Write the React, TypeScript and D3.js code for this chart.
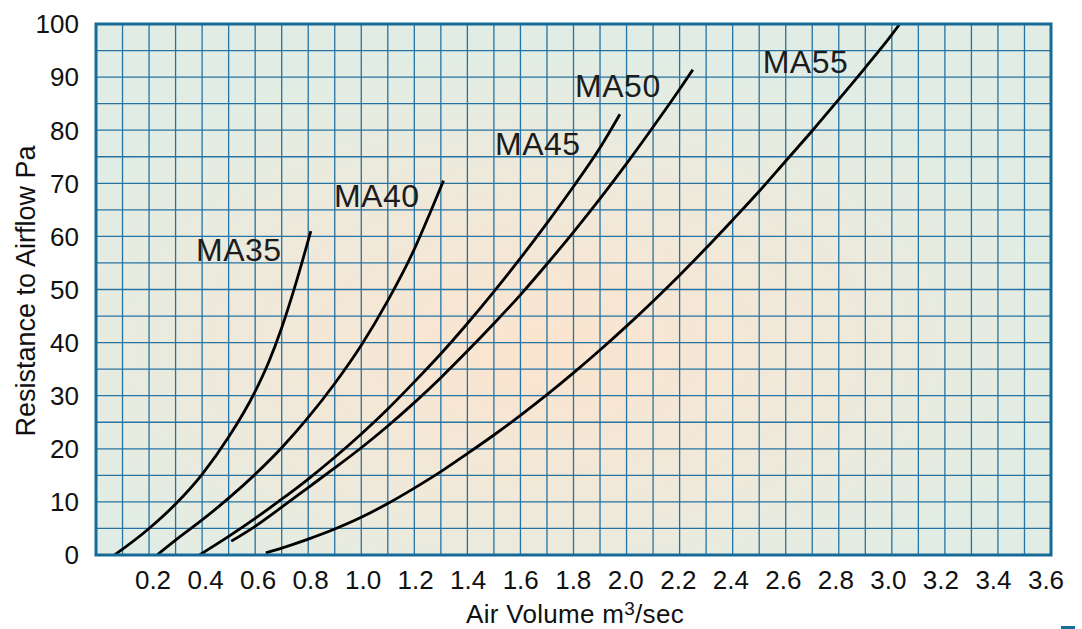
import React from "react";
import * as d3 from "d3";

const W = 1082;
const H = 629;

// Data (Air volume m3/sec, Resistance Pa)
const ma35: [number, number][] = [
  [0.07, 0], [0.2, 5.0], [0.3, 9.6], [0.4, 15.2], [0.5, 22.2], [0.6, 30.8],
  [0.65, 36.2], [0.7, 42.8], [0.75, 50.6], [0.81, 61],
];
const ma40: [number, number][] = [
  [0.23, 0], [0.3, 2.8], [0.4, 6.6], [0.5, 10.7], [0.6, 15.2], [0.7, 20.2],
  [0.8, 25.9], [0.9, 32.3], [1.0, 39.5], [1.1, 47.9], [1.2, 57.6], [1.26, 64.5], [1.31, 70.5],
];
const ma45: [number, number][] = [
  [0.39, 0], [0.5, 3.5], [0.6, 6.9], [0.7, 10.5], [0.8, 14.3], [0.9, 18.4],
  [1.0, 22.8], [1.1, 27.5], [1.2, 32.6], [1.3, 37.9], [1.4, 43.6], [1.5, 49.6],
  [1.6, 55.9], [1.7, 62.5], [1.8, 69.4], [1.9, 76.7], [1.975, 83],
];
const ma50: [number, number][] = [
  [0.51, 2.6], [0.6, 5.4], [0.7, 9.0], [0.8, 12.7], [0.9, 16.4], [1.0, 20.2],
  [1.1, 24.3], [1.2, 28.7], [1.3, 33.4], [1.4, 38.4], [1.5, 43.6], [1.6, 49.0],
  [1.7, 54.8], [1.8, 60.8], [1.9, 67.1], [2.0, 73.7], [2.1, 80.6], [2.2, 87.7], [2.25, 91.4],
];
const ma55: [number, number][] = [
  [0.64, 0.4], [0.7, 1.3], [0.8, 3.0], [0.9, 4.9], [1.0, 7.1], [1.1, 9.7],
  [1.2, 12.6], [1.3, 15.7], [1.4, 19.1], [1.5, 22.6], [1.6, 26.3], [1.7, 30.2],
  [1.8, 34.3], [1.9, 38.6], [2.0, 43.1], [2.1, 47.8], [2.2, 52.7], [2.3, 57.8],
  [2.4, 63.1], [2.5, 68.5], [2.6, 74.2], [2.7, 79.9], [2.8, 85.8], [2.9, 91.8],
  [3.0, 98.0], [3.03, 100],
];

const seriesNames = ["MA35", "MA40", "MA45", "MA50", "MA55"];
const seriesData = [ma35, ma40, ma45, ma50, ma55];
// label anchor (left, baseline) in data units
const labelX = [0.377, 0.897, 1.504, 1.806, 2.513];
const labelY = [55.4, 65.6, 75.3, 86.2, 90.7];

const xTicks = [0.2, 0.4, 0.6, 0.8, 1.0, 1.2, 1.4, 1.6, 1.8, 2.0, 2.2, 2.4, 2.6, 2.8, 3.0, 3.2, 3.4, 3.6];
const yTicks = [0, 10, 20, 30, 40, 50, 60, 70, 80, 90, 100];
const xGrid = d3.range(1, 36).map((i) => i / 10);
const yGrid = d3.range(1, 20).map((i) => i * 5);

const FONT = "'Liberation Sans', Arial, sans-serif";

export default function App() {
  const left = 96, right = 1051, top = 24, bottom = 555;
  const x = d3.scaleLinear().domain([0, 3.6]).range([left, right]);
  const y = d3.scaleLinear().domain([0, 100]).range([bottom, top]);
  const xLab = d3.scaleLinear().domain([0, 3.6]).range([left + 4.5, right - 5]);

  const line = d3
    .line<[number, number]>()
    .x((d) => x(d[0]))
    .y((d) => y(d[1]))
    .curve(d3.curveMonotoneX);

  const gridColor = "#2473a3";

  return (
    <svg
      width={W}
      height={H}
      viewBox={`0 0 ${W} ${H}`}
      style={{ position: "absolute", left: 0, top: 0, background: "#fff" }}
    >
      <defs>
        <radialGradient id="bg" cx="0.46" cy="0.6" r="0.55" fx="0.46" fy="0.62">
          <stop offset="0" stopColor="#fbe4ce" />
          <stop offset="0.45" stopColor="#f2e8d8" />
          <stop offset="1" stopColor="#e1ede4" />
        </radialGradient>
        <clipPath id="plotClip">
          <rect x={left} y={top} width={right - left} height={bottom - top} />
        </clipPath>
      </defs>

      <rect x={left} y={top} width={right - left} height={bottom - top} fill="url(#bg)" />

      <g>
        {xGrid.map((v) => (
          <line key={"gx" + v} x1={x(v)} x2={x(v)} y1={top} y2={bottom} stroke={gridColor} strokeWidth={1.3} />
        ))}
        {yGrid.map((v) => (
          <line key={"gy" + v} x1={left} x2={right} y1={y(v)} y2={y(v)} stroke={gridColor} strokeWidth={1.3} />
        ))}
      </g>

      <g clipPath="url(#plotClip)">
        {seriesData.map((s, i) => (
          <path key={seriesNames[i]} d={line(s) || ""} fill="none" stroke="#000" strokeWidth={2.8} strokeLinecap="butt" />
        ))}
      </g>

      <rect x={left} y={top} width={right - left} height={bottom - top} fill="none" stroke="#166a98" strokeWidth={3} />

      {seriesNames.map((n, i) => (
        <text
          key={"l" + n}
          x={x(labelX[i])}
          y={y(labelY[i])}
          fontFamily={FONT}
          fontSize={32}
          letterSpacing={0.5}
          fill="#1c1c1c"
        >
          {n}
        </text>
      ))}

      {yTicks.map((v) => (
        <text
          key={"yt" + v}
          x={left - 17}
          y={y(v)}
          dy="0.36em"
          textAnchor="end"
          fontFamily={FONT}
          fontSize={26}
          fill="#111"
        >
          {v}
        </text>
      ))}

      {xTicks.map((v) => (
        <text
          key={"xt" + v}
          x={xLab(v)}
          y={bottom + 34}
          textAnchor="middle"
          fontFamily={FONT}
          fontSize={26}
          fill="#111"
        >
          {v.toFixed(1)}
        </text>
      ))}

      <text
        x={466}
        y={623}
        fontFamily={FONT}
        fontSize={26}
        letterSpacing={0.3}
        fill="#111"
      >
        Air Volume m<tspan fontSize={19} dy={-8}>3</tspan>
        <tspan dy={8}>/sec</tspan>
      </text>

      <text
        transform={`translate(35, ${(top + bottom) / 2 + 1.5}) rotate(-90)`}
        textAnchor="middle"
        fontFamily={FONT}
        fontSize={27}
        fill="#111"
      >
        Resistance to Airflow Pa
      </text>

      <rect x={1061} y={626} width={14} height={3} fill="#1a6e9e" />
    </svg>
  );
}
